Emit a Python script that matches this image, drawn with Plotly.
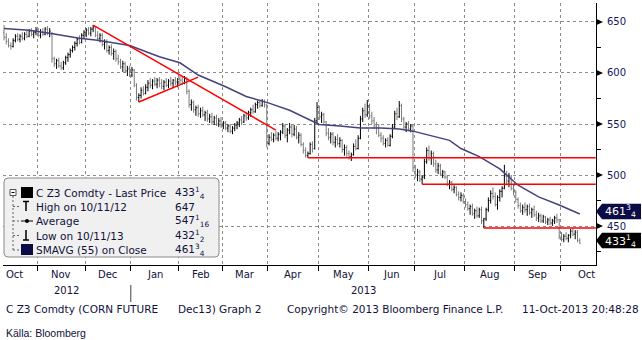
import plotly.graph_objects as go
import pandas as pd
import numpy as np

# ---------------- data ----------------
holidays = ["2012-11-22", "2012-12-25", "2013-01-01", "2013-01-21", "2013-02-18",
            "2013-03-29", "2013-05-27", "2013-07-04", "2013-09-02", "2013-11-28"]
first_day, last_day = "2012-10-11", "2013-10-11"

opens = [
    640, 635,
    631, 627, 626, 632, 636,
    633, 636, 634, 638, 636,
    641, 638, 640, 642, 637,
    640, 638, 643, 639, 638,
    614, 609, 612, 607, 605,
    610, 615, 618, 622,
    625, 629, 633, 630, 637,
    640, 642, 639, 643, 645,
    637, 634, 637, 628, 630,
    622, 625, 619, 621, 614,
    611, 606, 609, 602,
    604, 598, 603, 588,
    576, 578, 583, 580, 586,
    590, 588, 592, 589, 593,
    590, 587, 591, 588,
    592, 590, 593, 591, 594,
    593, 590, 595, 582, 569,
    571, 564, 566, 560, 563,
    559, 561, 555, 557,
    552, 556, 550, 553, 548,
    551, 546, 548, 543, 546,
    549, 551, 554, 552, 558,
    556, 561, 564, 562, 569,
    571, 568, 572, 568,
    531, 537, 535, 539, 536,
    540, 542, 548, 539, 544,
    547, 540, 545, 537, 539,
    530, 524, 519, 521, 530,
    526, 553, 566, 557, 559,
    552, 541, 537, 540, 532,
    535, 531, 534, 525, 527,
    521, 518, 520, 528, 526,
    536, 555, 563, 559,
    568, 558, 553, 548, 546,
    539, 536, 531, 534, 529,
    538, 547, 560, 557, 568,
    555, 547, 550, 545, 548,
    507, 500, 503, 496,
    498, 513, 524, 517, 521,
    511, 505, 509, 501, 503,
    498, 491, 493, 486, 488,
    481, 478, 480, 474, 471,
    467, 469, 462, 465, 460,
    466, 455, 457, 466, 475,
    482, 479, 471, 478, 484,
    487, 499, 494, 498, 487,
    483, 476, 470, 465,
    468, 466, 469, 463, 466,
    461, 458, 460, 455, 459,
    454, 456, 453, 455, 458,
    456, 440, 437, 440, 438,
    441, 445, 442, 444, 436,
]
highs = [
    647, 639,
    634, 630, 634, 638, 639,
    638, 640, 640, 642, 643,
    644, 642, 645, 644, 643,
    644, 645, 646, 644, 640,
    616, 614, 615, 611, 612,
    617, 620, 624, 627,
    631, 635, 637, 639, 642,
    644, 645, 645, 647, 646,
    641, 639, 639, 633, 633,
    627, 628, 624, 623, 618,
    614, 612, 611, 607,
    607, 606, 604, 590,
    580, 586, 587, 589, 593,
    595, 594, 596, 595, 596,
    594, 593, 595, 594,
    596, 594, 596, 595, 597,
    596, 597, 596, 584, 574,
    573, 568, 569, 566, 567,
    563, 564, 560, 561,
    558, 559, 556, 557, 553,
    553, 550, 550, 548, 551,
    553, 556, 558, 560, 562,
    563, 566, 569, 571, 573,
    574, 574.5, 574, 570,
    540, 542, 541, 543, 542,
    544, 551, 550, 546, 551,
    550, 549, 548, 542, 541,
    532, 527, 523, 532, 533,
    556, 571.5, 568, 562, 561,
    553, 546, 542, 542, 538,
    540, 537, 535, 530, 529,
    524, 522, 531, 535, 539,
    558, 566, 570, 573.5,
    570, 562, 557, 552, 550,
    542, 539, 536, 537, 540,
    550, 563, 566, 572.5, 570,
    557, 552, 553, 550, 549,
    510, 506, 505, 500,
    516, 527, 529, 524, 523,
    515, 512, 511, 505, 504,
    500, 495, 494, 490, 489,
    484, 483, 482, 477, 474,
    471, 472, 467, 469, 468,
    469, 458, 468, 478, 485,
    488, 483, 480, 486, 489,
    510, 504, 502, 500, 491,
    485, 478, 473, 471,
    473, 471, 472, 468, 470,
    465, 463, 462, 461, 460,
    458, 459, 457, 460, 462,
    457, 444, 442, 444, 442,
    447, 448, 446, 446, 438,
]
lows = [
    632, 628,
    625, 623, 625, 630, 631,
    630, 632, 632, 634, 635,
    636, 634, 637, 635, 634,
    636, 637, 637, 635, 610,
    606, 604, 605, 603, 603,
    608, 611, 615, 620,
    622, 626, 628, 629, 634,
    635, 637, 636, 640, 635,
    631, 630, 626, 623, 620,
    618, 617, 613, 611, 608,
    604, 601, 600, 597,
    596, 596, 586, 573,
    571.5, 575, 578, 579, 582,
    585, 584, 587, 585, 586,
    584, 583, 586, 585,
    587, 585, 588, 586, 589,
    588, 589, 579, 566, 563,
    561, 558, 557, 556, 557,
    553, 552, 551, 549,
    549, 548, 547, 546, 545,
    544, 542, 541, 540, 543,
    545, 547, 549, 551, 553,
    554, 557, 560, 561, 565,
    566, 567, 566, 527,
    529, 533, 532, 534, 533,
    534, 540, 536, 532, 540,
    537, 538, 535, 531, 528,
    521, 517, 516.75, 520, 522,
    525, 550, 554, 551, 549,
    538, 534, 531, 529, 527,
    529, 527, 522, 519, 518,
    515, 513.75, 519, 524, 525,
    535, 552, 556, 557,
    555, 550, 545, 540, 537,
    532, 529, 527, 528, 528,
    536, 546, 554, 556, 552,
    545, 542, 543, 542, 503,
    497, 494, 493, 491,
    496, 511, 514, 510, 508,
    502, 501, 499, 497, 496,
    489, 486, 484, 482, 479,
    475, 474, 472, 468, 465,
    461, 460, 457, 458, 458,
    452, 448, 455, 464, 472,
    476, 469, 466, 474, 478,
    486, 490, 488, 485, 480,
    473, 467, 463, 461,
    463, 460, 461, 458, 459,
    455, 454, 453, 453, 452,
    451, 451, 450, 452, 453,
    437, 435, 434, 436, 434,
    438, 440, 437, 434, 432.5,
]
closes = [
    635, 631,
    627, 626, 632, 636, 633,
    636, 634, 638, 636, 641,
    638, 640, 642, 637, 640,
    638, 643, 639, 641, 614,
    609, 612, 607, 605, 610,
    615, 618, 622, 625,
    629, 633, 630, 637, 640,
    642, 639, 643, 645, 637,
    634, 637, 628, 630, 622,
    625, 619, 621, 614, 611,
    606, 609, 602, 604,
    598, 603, 588, 576,
    578, 583, 580, 586, 590,
    588, 592, 589, 593, 590,
    587, 591, 588, 592,
    590, 593, 591, 594, 593,
    590, 595, 582, 569, 571,
    564, 566, 560, 563, 559,
    561, 555, 557, 552,
    556, 550, 553, 548, 551,
    546, 548, 543, 546, 549,
    551, 554, 552, 558, 556,
    561, 564, 562, 569, 571,
    568, 572, 569, 531,
    537, 535, 539, 536, 540,
    542, 548, 539, 544, 547,
    540, 545, 537, 539, 530,
    524, 519, 521, 530, 526,
    553, 566, 557, 559, 552,
    541, 537, 540, 532, 535,
    531, 534, 525, 527, 521,
    518, 520, 528, 526, 536,
    555, 563, 559, 568,
    558, 553, 548, 546, 539,
    536, 531, 534, 529, 538,
    547, 560, 557, 568, 555,
    547, 550, 545, 548, 507,
    500, 503, 496, 498,
    513, 524, 517, 521, 511,
    505, 509, 501, 503, 498,
    491, 493, 486, 488, 481,
    478, 480, 474, 471, 467,
    469, 462, 465, 460, 466,
    455, 457, 466, 475, 482,
    479, 471, 478, 484, 487,
    499, 494, 498, 487, 483,
    476, 470, 465, 468,
    466, 469, 463, 466, 461,
    458, 460, 455, 459, 454,
    456, 453, 455, 458, 456,
    440, 437, 440, 438, 441,
    445, 442, 444, 436, 433.25,
]

sma_dates = ["2012-10-11", "2012-10-26", "2012-11-08", "2012-11-28", "2012-12-10",
             "2012-12-31", "2013-01-18", "2013-01-25", "2013-02-01", "2013-02-13",
             "2013-03-04", "2013-03-15", "2013-04-01", "2013-04-12", "2013-04-25",
             "2013-05-01", "2013-05-14", "2013-05-28", "2013-06-10", "2013-06-20",
             "2013-06-28", "2013-07-10", "2013-07-23", "2013-07-30", "2013-08-09",
             "2013-08-22", "2013-09-04", "2013-09-17", "2013-09-30", "2013-10-11"]
sma_values = [643.6, 642, 639, 634, 632,
              627, 616, 613, 610, 598,
              586.5, 577, 570.5, 563.5, 554,
              549.5, 548, 546, 546, 545,
              543, 539, 534, 526, 518,
              506, 490, 478.6, 470.6, 461.75]

trend_dates = [["2012-12-06", "2013-04-04"], ["2013-01-07", "2013-02-13"],
               ["2013-04-24", "2013-10-22"], ["2013-07-05", "2013-10-22"],
               ["2013-08-13", "2013-10-22"]]
trend_values = [[647, 544], [571.6, 596], [517, 517], [491, 491], [448, 448]]

y_ticks = [450, 500, 550, 600, 650]
month_names = ["Oct", "Nov", "Dec", "Jan", "Feb", "Mar", "Apr", "May", "Jun",
               "Jul", "Aug", "Sep", "Oct"]
legend_labels = ["C Z3 Comdty - Last Price", "High on 10/11/12", "Average",
                 "Low on 10/11/13", "SMAVG (55) on Close"]
legend_values = ["433<sup>1</sup><sub>4</sub>", "647", "547<sup>1</sup><sub>16</sub>",
                 "432<sup>1</sup><sub>2</sub>", "461<sup>3</sup><sub>4</sub>"]
last_sma_label = "461<sup>3</sup><sub>4</sub>"
last_price_label = "433<sup>1</sup><sub>4</sub>"

# ---------------- trading-day axis ----------------
cal = pd.bdate_range("2012-10-01", "2013-11-29")
cal = cal[~cal.isin(pd.to_datetime(holidays))]
offset = int(np.searchsorted(cal, pd.Timestamp(first_day)))
n_days = int(np.searchsorted(cal, pd.Timestamp(last_day))) - offset + 1


def tidx(d):
    return int(np.searchsorted(cal, pd.Timestamp(d))) - offset


n = min(n_days, len(opens), len(highs), len(lows), len(closes))
xs = list(range(n))

X_MIN, X_MAX = -0.44, 259.1
Y_MIN, Y_MAX = 411.8, 668.6

months = pd.period_range("2012-10", "2013-11", freq="M")
bounds = []
for m in months:
    first = cal[(cal.year == m.year) & (cal.month == m.month)][0]
    bounds.append(tidx(first) - 0.5)
grid_x = bounds[1:-1]
label_x = [(bounds[i] + bounds[i + 1]) / 2 for i in range(len(months) - 1)]
label_x[0] = max(label_x[0], 4.8)
jan_b = bounds[3]

# ---------------- pixel helpers (styling only) ----------------
L, R, T, B = 3, 596, 3, 265


def PX(px):
    return (px - L) / (R - L)


def PY(py):
    return (B - py) / (B - T)


fig = go.Figure()

fig.add_trace(go.Ohlc(
    x=xs, open=opens[:n], high=highs[:n], low=lows[:n], close=closes[:n],
    increasing=dict(line=dict(color="#000000", width=1)),
    decreasing=dict(line=dict(color="#7a7a7a", width=1)),
    tickwidth=0.4, hoverinfo="skip"))

fig.add_trace(go.Scatter(
    x=[tidx(d) for d in sma_dates], y=sma_values, mode="lines",
    line=dict(color="#43437f", width=1.5), hoverinfo="skip"))

for dts, vals in zip(trend_dates, trend_values):
    fig.add_trace(go.Scatter(
        x=[tidx(d) for d in dts], y=vals, mode="lines",
        line=dict(color="#ff0000", width=1.5), hoverinfo="skip"))

shapes = []
annotations = []

for v in y_ticks:
    shapes.append(dict(type="path", xref="paper", yref="y",
                       path=f"M 1.0,{v-3.2} L {PX(603)},{v} L 1.0,{v+3.2} Z",
                       fillcolor="#000000", line=dict(width=0), layer="above"))

for val, lab, col in [(sma_values[-1], last_sma_label, "#0b0b45"),
                      (closes[n - 1], last_price_label, "#000000")]:
    c = val + 2.5
    h = 7.6
    shapes.append(dict(type="path", xref="paper", yref="y",
                       path=(f"M {PX(596)},{c} L {PX(602)},{c+h} L {PX(641)},{c+h} "
                             f"L {PX(641)},{c-h} L {PX(602)},{c-h} Z"),
                       fillcolor=col, line=dict(width=0), layer="above"))
    annotations.append(dict(xref="paper", yref="y", x=PX(603), y=c, text=lab,
                            showarrow=False, xanchor="left", yanchor="middle",
                            font=dict(color="white", size=11, family="DejaVu Sans")))

x0, x1, y0, y1, r = 4, 219, 178, 257, 4
rx, ry = r / (R - L), r / (B - T)
path = (f"M {PX(x0)+rx},{PY(y0)} L {PX(x1)-rx},{PY(y0)} Q {PX(x1)},{PY(y0)} {PX(x1)},{PY(y0)-ry} "
        f"L {PX(x1)},{PY(y1)+ry} Q {PX(x1)},{PY(y1)} {PX(x1)-rx},{PY(y1)} "
        f"L {PX(x0)+rx},{PY(y1)} Q {PX(x0)},{PY(y1)} {PX(x0)},{PY(y1)+ry} "
        f"L {PX(x0)},{PY(y0)-ry} Q {PX(x0)},{PY(y0)} {PX(x0)+rx},{PY(y0)} Z")
shapes.append(dict(type="path", xref="paper", yref="paper", path=path,
                   fillcolor="#f0f0f0", line=dict(color="#8a8a8a", width=1), layer="above"))

rows = [192.5, 206.5, 221, 235.5, 250]
shapes.append(dict(type="line", xref="paper", yref="paper", x0=PX(13), x1=PX(13),
                   y0=PY(196), y1=PY(rows[4]), line=dict(color="#606060", width=1, dash="2px,2px"),
                   layer="above"))
for ry_ in rows[1:]:
    shapes.append(dict(type="line", xref="paper", yref="paper", x0=PX(13), x1=PX(20),
                       y0=PY(ry_), y1=PY(ry_), line=dict(color="#606060", width=1, dash="2px,2px"),
                       layer="above"))
shapes.append(dict(type="rect", xref="paper", yref="paper", x0=PX(10), x1=PX(16),
                   y0=PY(189.5), y1=PY(195.5), line=dict(color="#505050", width=1),
                   fillcolor="white", layer="above"))
shapes.append(dict(type="line", xref="paper", yref="paper", x0=PX(11.5), x1=PX(14.5),
                   y0=PY(192.5), y1=PY(192.5), line=dict(color="#000000", width=1), layer="above"))
shapes.append(dict(type="rect", xref="paper", yref="paper", x0=PX(21), x1=PX(33),
                   y0=PY(187), y1=PY(198), fillcolor="#000000", line=dict(width=0), layer="above"))
shapes.append(dict(type="line", xref="paper", yref="paper", x0=PX(23), x1=PX(29),
                   y0=PY(201.5), y1=PY(201.5), line=dict(color="#000000", width=1.5), layer="above"))
shapes.append(dict(type="line", xref="paper", yref="paper", x0=PX(26), x1=PX(26),
                   y0=PY(201.5), y1=PY(211), line=dict(color="#000000", width=1.5), layer="above"))
shapes.append(dict(type="line", xref="paper", yref="paper", x0=PX(21), x1=PX(33),
                   y0=PY(221), y1=PY(221), line=dict(color="#000000", width=1), layer="above"))
shapes.append(dict(type="circle", xref="paper", yref="paper", x0=PX(25), x1=PX(29),
                   y0=PY(219), y1=PY(223), fillcolor="#000000", line=dict(width=0), layer="above"))
shapes.append(dict(type="line", xref="paper", yref="paper", x0=PX(26), x1=PX(26),
                   y0=PY(230), y1=PY(240), line=dict(color="#000000", width=1.5), layer="above"))
shapes.append(dict(type="line", xref="paper", yref="paper", x0=PX(23), x1=PX(29),
                   y0=PY(240), y1=PY(240), line=dict(color="#000000", width=1.5), layer="above"))
shapes.append(dict(type="rect", xref="paper", yref="paper", x0=PX(21), x1=PX(33),
                   y0=PY(244), y1=PY(255), fillcolor="#0b0b45", line=dict(width=0), layer="above"))

for ry_, lab, val in zip(rows, legend_labels, legend_values):
    annotations.append(dict(xref="paper", yref="paper", x=PX(34), y=PY(ry_), text=lab,
                            showarrow=False, xanchor="left", yanchor="middle",
                            font=dict(size=10.5, color="#10103a", family="DejaVu Sans")))
    annotations.append(dict(xref="paper", yref="paper", x=PX(173), y=PY(ry_), text=val,
                            showarrow=False, xanchor="left", yanchor="middle",
                            font=dict(size=10.5, color="#10103a", family="DejaVu Sans")))

for lx, nm in zip(label_x, month_names):
    annotations.append(dict(xref="x", yref="paper", x=lx, y=PY(274.5), text=nm,
                            showarrow=False, xanchor="center", yanchor="middle",
                            font=dict(size=10, color="#10103a", family="DejaVu Sans")))
annotations.append(dict(xref="x", yref="paper", x=(X_MIN + jan_b) / 2, y=PY(290.5), text="2012",
                        showarrow=False, xanchor="center", yanchor="middle",
                        font=dict(size=10, color="#10103a", family="DejaVu Sans")))
annotations.append(dict(xref="x", yref="paper", x=(jan_b + X_MAX) / 2, y=PY(290.5), text="2013",
                        showarrow=False, xanchor="center", yanchor="middle",
                        font=dict(size=10, color="#10103a", family="DejaVu Sans")))
shapes.append(dict(type="line", xref="x", yref="paper", x0=jan_b, x1=jan_b,
                   y0=PY(285), y1=PY(302), line=dict(color="#404040", width=1)))

foot_font = dict(size=10.5, color="#10103a", family="DejaVu Sans")
for fx, txt, anc in [(4, "C Z3 Comdty (CORN FUTURE", "left"), (176, "Dec13) Graph 2", "left"),
                     (285, "Copyright\u00a9 2013 Bloomberg Finance L.P.", "left"),
                     (641, "11-Oct-2013 20:48:28", "right")]:
    annotations.append(dict(xref="paper", yref="paper", x=PX(fx), y=PY(309), text=txt,
                            showarrow=False, xanchor=anc, yanchor="middle", font=foot_font))
annotations.append(dict(xref="paper", yref="paper", x=PX(4), y=PY(333), text="K\u00e4lla: Bloomberg",
                        showarrow=False, xanchor="left", yanchor="middle",
                        font=dict(size=10.5, color="#10103a",
                                  family="Liberation Sans Narrow, Liberation Sans, sans-serif")))

fig.update_layout(
    width=642, height=340,
    margin=dict(l=L, r=642 - R, t=T, b=340 - B),
    paper_bgcolor="white", plot_bgcolor="white",
    showlegend=False,
    font=dict(family="DejaVu Sans", size=10, color="#10103a"),
    shapes=shapes, annotations=annotations,
    xaxis=dict(range=[X_MIN, X_MAX], tickmode="array", tickvals=grid_x, showticklabels=False,
               ticks="outside", ticklen=5, tickcolor="#000000",
               showgrid=True, gridcolor="#8c8c8c", griddash="3px,3px", gridwidth=1,
               showline=True, linecolor="#000000", linewidth=1, zeroline=False,
               rangeslider=dict(visible=False), fixedrange=True),
    yaxis=dict(side="right", range=[Y_MIN, Y_MAX], tickmode="array", tickvals=y_ticks,
               ticks="", ticklabelstandoff=8,
               tickfont=dict(size=10, color="#15155a", family="DejaVu Sans"),
               showgrid=True, gridcolor="#8c8c8c", griddash="3px,3px", gridwidth=1,
               showline=True, linecolor="#000000", linewidth=1, zeroline=False,
               minor=dict(dtick=25, tick0=0, ticks="outside", ticklen=4, tickcolor="#000000",
                          showgrid=False),
               fixedrange=True),
)

fig.write_html("out.html")
